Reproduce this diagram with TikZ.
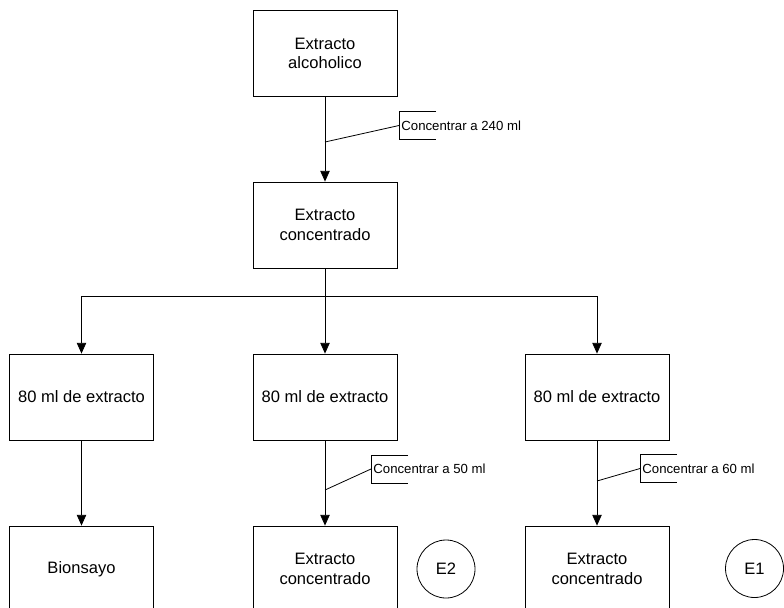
\documentclass[tikz,border=0pt]{standalone}
\usepackage{fontspec}
\setmainfont{Liberation Sans}
\usetikzlibrary{arrows.meta}

\tikzset{
  caja/.style={draw, minimum width=108pt, minimum height=64.5pt, align=center,
    font=\fontsize{12.4}{14.5}\selectfont},
  circulo/.style={draw, circle, minimum size=43.5pt, inner sep=0pt,
    font=\fontsize{12.4}{14.5}\selectfont},
  nota/.style={anchor=west, inner xsep=1.5pt, inner ysep=0pt, minimum height=20.25pt,
    font=\fontsize{9.9}{12}\selectfont},
  flecha/.style={-{Triangle[length=8pt,width=7pt]}}
}

\begin{document}
\begin{tikzpicture}[x=0.75pt, y=-0.75pt, line width=0.6pt]
    \useasboundingbox (0,0) rectangle (784,607);
    \clip (0,0) rectangle (784,607);

    % cajas
    \node[caja] (alc) at (325,53.5) {Extracto\\alcoholico};
    \node[caja] (conc) at (325,225) {Extracto\\concentrado};
    \node[caja] (m1) at (81.5,397) {80 ml de extracto};
    \node[caja] (m2) at (325,397) {80 ml de extracto};
    \node[caja] (m3) at (597,397) {80 ml de extracto};
    \node[caja] (bio) at (81.5,569) {Bionsayo};
    \node[caja] (ec2) at (325,569) {Extracto\\concentrado};
    \node[caja] (ec1) at (597,569) {Extracto\\concentrado};
    \node[circulo] (E2) at (446,569) {E2};
    \node[circulo] (E1) at (754.5,568.5) {E1};

    % flechas
    \draw[flecha] (alc) -- (conc);
    \coordinate (rama) at (325,296);
    \draw (conc) -- (rama);
    \draw[flecha] (rama) -| (m1);
    \draw[flecha] (rama) -- (m2);
    \draw[flecha] (rama) -| (m3);
    \draw[flecha] (m1) -- (bio);
    \draw[flecha] (m2) -- (ec2);
    \draw[flecha] (m3) -- (ec1);

    % notas
    \coordinate (k1) at (325,142);
    \node[nota] (n1) at (399,125.5) {Concentrar a 240 ml};
    \draw (k1) -- (n1.west);
    \draw (n1.north west) ++(37,0) -- (n1.north west) -- (n1.south west) -- ++(37,0);

    \coordinate (k2) at (325,490);
    \node[nota] (n2) at (371,469) {Concentrar a 50 ml};
    \draw (k2) -- (n2.west);
    \draw (n2.north west) ++(37,0) -- (n2.north west) -- (n2.south west) -- ++(37,0);

    \coordinate (k3) at (597,481);
    \node[nota] (n3) at (640,468.5) {Concentrar a 60 ml};
    \draw (k3) -- (n3.west);
    \draw (n3.north west) ++(37,0) -- (n3.north west) -- (n3.south west) -- ++(37,0);
\end{tikzpicture}
\end{document}
